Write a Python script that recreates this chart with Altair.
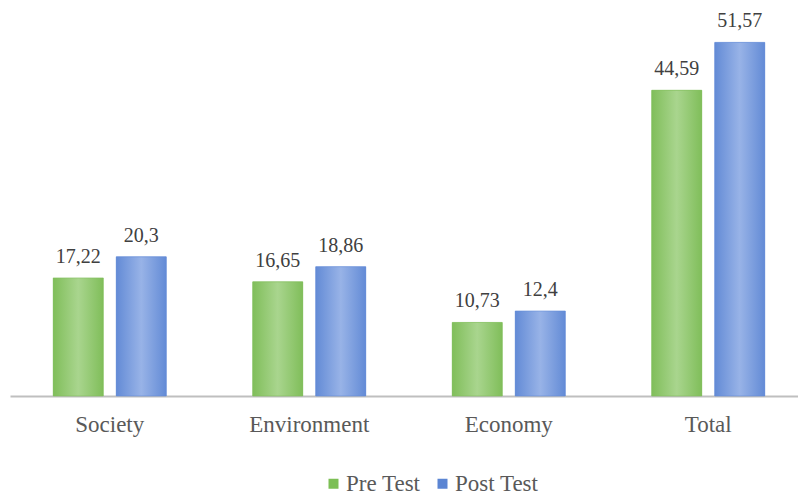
import altair as alt
import pandas as pd

categories = ["Society", "Environment", "Economy", "Total"]
pre_test = [17.22, 16.65, 10.73, 44.59]
post_test = [20.3, 18.86, 12.4, 51.57]
series = ["Pre Test", "Post Test"]
colors = ["#7cbf55", "#5b85d3"]

rows = []
for cat, a, b in zip(categories, pre_test, post_test):
    for s, v in zip(series, (a, b)):
        rows.append({"category": cat, "series": s, "value": v,
                     "label": f"{v:g}".replace(".", ",")})
df = pd.DataFrame(rows)

FONT = "Times New Roman"

x_enc = alt.X("category:N", sort=categories, title=None,
              scale=alt.Scale(range=[0, 798], paddingInner=0, paddingOuter=0),
              axis=alt.Axis(labelFont=FONT, labelFontSize=23, labelColor="#595959",
                            labelPadding=17, ticks=False, domainColor="#bfbfbf",
                            domainWidth=2, labelAngle=0))
xo_enc = alt.XOffset("series:N", sort=series,
                     scale=alt.Scale(paddingInner=0.206, paddingOuter=0.686))
y_enc = alt.Y("value:Q", scale=alt.Scale(domain=[0, 56], nice=False), axis=None)

base = alt.Chart(df).encode(x=x_enc, xOffset=xo_enc, y=y_enc)

bars = base.mark_bar().encode(
    color=alt.Color("series:N", sort=series,
                    scale=alt.Scale(domain=series, range=colors),
                    legend=alt.Legend(title=None, orient="none", direction="horizontal",
                                      legendX=312, legendY=460, symbolType="square",
                                      symbolSize=100, symbolStrokeWidth=0,
                                      labelFont=FONT, labelFontSize=23,
                                      labelColor="#595959", labelOffset=1,
                                      columnPadding=10))
)


def shaded(name, edge, mid):
    # Horizontal gradient: deeper tone at the edges, lighter through the middle
    grad = alt.LinearGradient(
        gradient="linear", x1=0, x2=1, y1=0, y2=0,
        stops=[alt.GradientStop(color=edge, offset=0),
               alt.GradientStop(color=mid, offset=0.5),
               alt.GradientStop(color=edge, offset=1)])
    return base.transform_filter(alt.datum.series == name).mark_bar(
        fill=grad, stroke=edge, strokeWidth=0.6)


pre_layer = shaded("Pre Test", "#80be5a", "#a9d58e")
post_layer = shaded("Post Test", "#638bd6", "#98b3e7")

labels = base.mark_text(dy=-21, font=FONT, fontSize=20, color="#404040").encode(
    text="label:N")

chart = alt.layer(bars, pre_layer, post_layer, labels).properties(
    width=788, height=384,
    autosize=alt.AutoSizeParams(type="none"),
    padding={"left": 10, "top": 12, "right": 0, "bottom": 99},
).configure_view(stroke=None)

chart.save("out.html", embed_options={"renderer": "svg", "actions": False})
